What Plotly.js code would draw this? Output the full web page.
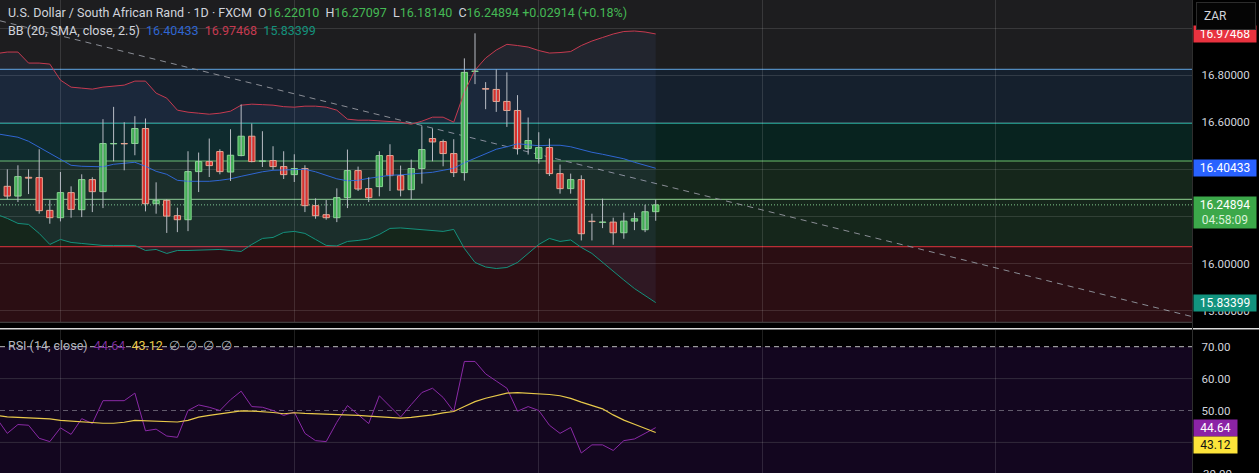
<!DOCTYPE html>
<html><head><meta charset="utf-8">
<script src="https://cdn.plot.ly/plotly-3.0.1.min.js"></script>
<style>html,body{margin:0;padding:0;background:#000;overflow:hidden}#chart{width:1259px;height:473px}</style>
</head><body><div id="chart"></div>
<script>
// ---------------- data ----------------
const candleIndex = Array.from({length: 62}, (_, i) => i);
const openP  = [16.3277,16.2864,16.366,16.3647,16.2255,16.1945,16.3009,16.2285,16.3562,16.3051,16.5081,16.5094,16.5094,16.5732,16.254,16.2681,16.203,16.186,16.3902,16.4328,16.4753,16.3885,16.4583,16.5404,16.434,16.437,16.4115,16.3774,16.403,16.2455,16.2072,16.1945,16.2796,16.3945,16.3179,16.3264,16.4583,16.3732,16.3136,16.403,16.5306,16.5179,16.4668,16.386,16.8157,16.7426,16.7391,16.6881,16.6498,16.4881,16.4455,16.4923,16.3817,16.3179,16.3562,16.1796,16.1745,16.1757,16.1306,16.18,16.1434,16.2201];
const highP  = [16.4,16.417,16.4,16.4851,16.2694,16.3885,16.3277,16.3787,16.366,16.6128,16.6651,16.6,16.6255,16.6157,16.3447,16.2723,16.237,16.4766,16.4711,16.5306,16.4851,16.5702,16.6753,16.5945,16.5617,16.4979,16.4766,16.4638,16.417,16.2766,16.2694,16.3191,16.4838,16.4115,16.366,16.4766,16.5064,16.4157,16.4413,16.583,16.5732,16.5264,16.5277,16.8711,16.9774,16.7702,16.8243,16.8115,16.7149,16.62,16.5574,16.5306,16.42,16.3817,16.3745,16.2115,16.2753,16.1945,16.2157,16.2157,16.2498,16.27097];
const lowP   = [16.2723,16.2609,16.2949,16.2115,16.1689,16.1787,16.1945,16.197,16.2183,16.2353,16.434,16.3957,16.4596,16.2213,16.2115,16.1298,16.1332,16.1374,16.3034,16.3672,16.3787,16.3502,16.4553,16.4298,16.4098,16.3987,16.3587,16.346,16.2183,16.1902,16.186,16.1757,16.2353,16.3077,16.2609,16.2851,16.3077,16.2851,16.2711,16.3391,16.434,16.4128,16.3672,16.3519,16.7617,16.6553,16.6438,16.58,16.4626,16.4626,16.4243,16.3715,16.2966,16.2966,16.0979,16.0979,16.1502,16.0796,16.1051,16.1417,16.1332,16.1814];
const closeP = [16.2864,16.3689,16.3626,16.2243,16.1945,16.3009,16.2298,16.3562,16.3051,16.5094,16.5094,16.5081,16.5732,16.254,16.2681,16.2013,16.186,16.3902,16.4328,16.4157,16.3902,16.4596,16.5404,16.4328,16.4357,16.4115,16.3774,16.403,16.2455,16.203,16.1945,16.2796,16.3945,16.3162,16.2796,16.4583,16.3732,16.312,16.403,16.4838,16.5162,16.4668,16.386,16.8115,16.817,16.7404,16.6881,16.6498,16.4881,16.5221,16.4923,16.3817,16.3179,16.3562,16.1264,16.1779,16.1762,16.1306,16.18,16.1902,16.2198,16.24894];

const bandIndex = Array.from({length: 63}, (_, i) => i - 1);
const bbUpper = [16.8915,16.8979,16.8979,16.8511,16.8511,16.8468,16.7787,16.7489,16.7447,16.7404,16.7489,16.7532,16.7574,16.7745,16.7745,16.7234,16.7021,16.6511,16.6426,16.6383,16.634,16.6383,16.6468,16.6723,16.6766,16.6745,16.6723,16.666,16.6638,16.6681,16.6681,16.6638,16.6511,16.6128,16.6085,16.6085,16.6064,16.6043,16.6,16.5915,16.6043,16.6213,16.6213,16.6,16.7277,16.8213,16.8723,16.9064,16.9306,16.9255,16.9191,16.9043,16.8936,16.8957,16.9,16.9255,16.9447,16.9596,16.9745,16.9851,16.9872,16.983,16.97468];
const bbBasis = [16.5511,16.5447,16.5362,16.5191,16.4936,16.4681,16.4404,16.417,16.4128,16.4106,16.4106,16.4213,16.4255,16.4298,16.4128,16.3915,16.3787,16.3532,16.349,16.349,16.349,16.3532,16.3596,16.3702,16.3809,16.3894,16.3957,16.3979,16.4,16.4,16.3894,16.3745,16.3596,16.3511,16.3532,16.3617,16.3681,16.3745,16.3766,16.3809,16.383,16.3872,16.3957,16.4043,16.4277,16.4468,16.466,16.4851,16.4957,16.5085,16.5043,16.5,16.5021,16.5021,16.4957,16.483,16.4723,16.4638,16.4553,16.4447,16.4298,16.417,16.40433];
const bbLower = [16.2085,16.1915,16.1702,16.166,16.1277,16.0809,16.1021,16.0894,16.0851,16.0809,16.0766,16.0766,16.0766,16.0766,16.0553,16.0596,16.0426,16.0553,16.0553,16.0574,16.0596,16.0596,16.0553,16.0511,16.0809,16.1064,16.1106,16.1319,16.1362,16.1277,16.1021,16.0766,16.0745,16.0936,16.0979,16.1043,16.1234,16.1489,16.151,16.1468,16.1426,16.1383,16.1362,16.1447,16.0638,16.0043,15.9851,15.9787,15.983,16.0043,16.0447,16.0809,16.1064,16.0936,16.1,16.0681,16.0426,16.0043,15.966,15.9298,15.8936,15.8638,15.83399];

const rsiValues = [47.54,42.83,45.6,45.38,41.29,40.25,44.55,42.52,47.45,45.91,53.08,53.08,53.08,55.45,43.63,44.15,42,41.6,50,51.75,51.02,50,53.38,56.06,51.23,51.02,50,48.46,49.48,42.83,40.55,40.25,46.31,51.54,48.77,45.91,54.62,51.23,47.94,51.85,55.63,56.98,54.09,49.69,65.38,65.38,61.48,59.23,56.98,49.78,51.23,50,45.38,42.83,44.68,36.68,39.23,39.23,37.48,40.55,41.08,42.83,44.64];
const rsiMA = [48.46,48,47.85,47.75,47.63,47.38,46.92,46.68,46.46,46.15,46,46,46.31,46.92,46.77,46.62,46.52,46.4,46.92,47.94,48.46,48.98,49.45,49.91,49.82,49.69,49.38,48.98,49.29,49.08,48.98,48.98,48.68,48.62,48.46,48.25,48,47.78,47.63,47.85,48.15,48.62,49.23,49.69,51.23,52.77,53.85,54.77,55.45,55.63,55.45,55.29,55.02,54.62,53.78,52.62,51.69,50.52,48.62,46.98,45.69,44.46,43.12];

const levelPrices = [16.8246, 16.5953, 16.4352, 16.2726, 16.0713];
const zoneEdges = [17.4, 16.8246, 16.5953, 16.4352, 16.0713, 15.5];
const trendIndex = [-0.687, 111.5];
const trendPrice = [17.0306, 15.7741];
const timeGridIndex = [4.96, 27.02, 49.95, 71.03, 92.94];
const priceTicks = [15.8, 16.0, 16.2, 16.4, 16.6, 16.8, 17.0];
const priceTicksHidden = [16.2, 16.4, 17.0];   // covered by the value tags
const rsiTicks = [40, 50, 60, 70];
const rsiTicksHidden = [40];
const rsiLevels = [70, 50, 30];
const rsiGrid = [60, 40];
const countdownText = '04:58:09';
const headerTitle = 'U.S. Dollar / South African Rand · 1D · FXCM';
const currency = 'ZAR';

// ---------------- styles ----------------
const W = 1259, H = 473;
const plotRightPx = 1192.5, mainBottomPx = 322.3, rsiTopPx = 330;
const levelColors = ['#62a6e4', '#27ab9b', '#6cc06d', '#93d593', '#e3353f'];
const zoneColors = ['#1d1d1f', '#15202d', '#08231f', '#15261b', '#2b0e13'];
const gridColor = 'rgba(255,255,255,0.12)';
const incFill = '#3fae49', incLine = '#86d986', decFill = '#de2a20', decLine = '#f4a384';
const wickColor = '#b8bcc4';
const upCol = '#c63a50', midCol = '#2f66d2', lowCol = '#14917c';
const rsiCol = '#8a2aa6', maCol = '#e8c94a';
const txt = '#d1d4dc';
const FONT = 'Roboto, "Noto Sans", sans-serif';

// ---------------- traces ----------------
const wickX = [], wickY = [];
candleIndex.forEach((i, k) => { wickX.push(i, i, null); wickY.push(lowP[k], highP[k], null); });
const isUp = candleIndex.map((i, k) => closeP[k] >= openP[k]);

const traces = [
  {x: bandIndex, y: bbUpper, mode: 'lines', line: {color: upCol, width: 1}, xaxis: 'x', yaxis: 'y', hoverinfo: 'skip'},
  {x: bandIndex, y: bbLower, mode: 'lines', line: {color: lowCol, width: 1}, fill: 'tonexty', fillcolor: 'rgba(110,150,255,0.07)', xaxis: 'x', yaxis: 'y', hoverinfo: 'skip'},
  {x: bandIndex, y: bbBasis, mode: 'lines', line: {color: midCol, width: 1}, xaxis: 'x', yaxis: 'y', hoverinfo: 'skip'},
  {x: wickX, y: wickY, mode: 'lines', line: {color: wickColor, width: 1}, connectgaps: false, xaxis: 'x', yaxis: 'y', hoverinfo: 'skip'},
  {type: 'bar', x: candleIndex,
   base: candleIndex.map((i, k) => Math.min(openP[k], closeP[k])),
   y: candleIndex.map((i, k) => Math.abs(closeP[k] - openP[k])),
   width: 0.6,
   marker: {color: isUp.map(u => u ? incFill : decFill), line: {color: isUp.map(u => u ? incLine : decLine), width: 1}},
   xaxis: 'x', yaxis: 'y', hoverinfo: 'skip'},
  {x: bandIndex, y: rsiValues, mode: 'lines', line: {color: rsiCol, width: 1}, xaxis: 'x2', yaxis: 'y2', hoverinfo: 'skip'},
  {x: bandIndex, y: rsiMA, mode: 'lines', line: {color: maCol, width: 1.2}, xaxis: 'x2', yaxis: 'y2', hoverinfo: 'skip'}
];

// ---------------- shapes ----------------
const shapes = [];
for (let k = 0; k < zoneColors.length; k++) {
  shapes.push({type: 'rect', xref: 'x domain', x0: 0, x1: 1, yref: 'y', y0: zoneEdges[k + 1], y1: zoneEdges[k],
    fillcolor: zoneColors[k], line: {width: 0}, layer: 'below'});
}
levelPrices.forEach((lv, k) => shapes.push({type: 'line', xref: 'x domain', x0: 0, x1: 1, yref: 'y', y0: lv, y1: lv,
  line: {color: levelColors[k], width: 1}, layer: 'below'}));
const lastClose = closeP[closeP.length - 1];
shapes.push({type: 'line', xref: 'x domain', x0: 0, x1: 1, yref: 'y', y0: lastClose, y1: lastClose,
  line: {color: '#7fc88b', width: 1, dash: '1px,2px'}, layer: 'below'});
shapes.push({type: 'line', xref: 'x', yref: 'y', x0: trendIndex[0], x1: trendIndex[1], y0: trendPrice[0], y1: trendPrice[1],
  line: {color: '#8a8d95', width: 1, dash: '6px,5px'}, layer: 'below'});
// RSI pane
shapes.push({type: 'rect', xref: 'x2 domain', x0: 0, x1: 1, yref: 'y2', y0: rsiLevels[2], y1: rsiLevels[0],
  fillcolor: '#13061f', line: {width: 0}, layer: 'below'});
rsiGrid.forEach(gv => shapes.push({type: 'line', xref: 'x2 domain', x0: 0, x1: 1, yref: 'y2', y0: gv, y1: gv,
  line: {color: '#322a3b', width: 1}, layer: 'below'}));
shapes.push({type: 'line', xref: 'x2 domain', x0: 0, x1: 1, yref: 'y2', y0: rsiLevels[0], y1: rsiLevels[0],
  line: {color: '#bdbdbd', width: 1, dash: '5px,4px'}, layer: 'below'});
shapes.push({type: 'line', xref: 'x2 domain', x0: 0, x1: 1, yref: 'y2', y0: rsiLevels[1], y1: rsiLevels[1],
  line: {color: '#625b6c', width: 1, dash: '5px,4px'}, layer: 'below'});
shapes.push({type: 'line', xref: 'x2 domain', x0: 0, x1: 1, yref: 'y2', y0: rsiLevels[2], y1: rsiLevels[2],
  line: {color: '#625b6c', width: 1, dash: '5px,4px'}, layer: 'below'});
// frame lines
shapes.push({type: 'line', xref: 'paper', yref: 'paper', x0: 0, x1: plotRightPx / W, y0: 1 - mainBottomPx / H, y1: 1 - mainBottomPx / H,
  line: {color: '#4d4d4d', width: 1}});
shapes.push({type: 'line', xref: 'paper', yref: 'paper', x0: 0, x1: 1, y0: 1 - 328.8 / H, y1: 1 - 328.8 / H,
  line: {color: '#d9d9d9', width: 1.5}});
shapes.push({type: 'line', xref: 'paper', yref: 'paper', x0: plotRightPx / W, x1: plotRightPx / W, y0: 0, y1: 1,
  line: {color: '#2e2e2e', width: 1}});

// ---------------- annotations ----------------
const n = closeP.length;
const chg = closeP[n - 1] - closeP[n - 2];
const pct = chg / closeP[n - 2] * 100;
const sgn = v => (v >= 0 ? '+' : '');
const G = '#45b955';
const g = s => `<span style="color:${G}">${s}</span>`;
const sp = '&nbsp;&nbsp;';
const header1 = `${headerTitle}&nbsp;&nbsp;O${g(openP[n-1].toFixed(5))}${sp}H${g(highP[n-1].toFixed(5))}${sp}L${g(lowP[n-1].toFixed(5))}${sp}C${g(closeP[n-1].toFixed(5))}&nbsp;${g(sgn(chg) + chg.toFixed(5) + ' (' + sgn(pct) + pct.toFixed(2) + '%)')}`;
const nb = bbBasis.length;
const header2 = `BB (20, SMA, close, 2.5)${sp}<span style="color:${midCol}">${bbBasis[nb-1].toFixed(5)}</span>${sp}<span style="color:${upCol}">${bbUpper[nb-1].toFixed(5)}</span>${sp}<span style="color:${lowCol}">${bbLower[nb-1].toFixed(5)}</span>`;
const nr = rsiValues.length;
const header3 = `RSI (14, close)${sp}<span style="color:#7d2e9c">${rsiValues[nr-1].toFixed(2)}</span>${sp}<span style="color:${maCol}">${rsiMA[nr-1].toFixed(2)}</span>${sp}∅&nbsp;&nbsp;∅&nbsp;&nbsp;∅&nbsp;&nbsp;∅`;

const ann = [];
ann.push({xref: 'paper', yref: 'paper', x: 6 / W, y: 1 - 13 / H, xanchor: 'left', yanchor: 'middle', text: header1, showarrow: false,
  font: {family: FONT, size: 12.5, color: txt}});
ann.push({xref: 'paper', yref: 'paper', x: 6 / W, y: 1 - 30 / H, xanchor: 'left', yanchor: 'middle', text: header2, showarrow: false,
  font: {family: FONT, size: 12.5, color: txt}});
ann.push({xref: 'paper', yref: 'paper', x: 6 / W, y: 1 - 345.5 / H, xanchor: 'left', yanchor: 'middle', text: header3, showarrow: false,
  font: {family: FONT, size: 12.5, color: '#b2b5be'}});

function tag(yref, val, text, bg, fg, w, h, yshift) {
  return {xref: 'paper', x: plotRightPx / W, xanchor: 'left', yref: yref, y: val, yanchor: 'middle', yshift: yshift || 0,
    text: text, showarrow: false, bgcolor: bg, borderpad: 1, width: w, height: h, align: 'center',
    font: {family: FONT, size: 12, color: fg}};
}
ann.push(tag('y', bbUpper[nb-1], bbUpper[nb-1].toFixed(5), '#e8323f', '#ffffff', 60, 14));
ann.push(tag('y', bbBasis[nb-1], bbBasis[nb-1].toFixed(5), '#2962ff', '#ffffff', 60, 14));
const t2 = tag('y', lastClose, `${lastClose.toFixed(5)}<br><span style="color:#d9f3d9">${countdownText}</span>`, '#3ca84a', '#ffffff', 60, 29, 0);
t2.yanchor = 'top'; t2.yshift = 8.5;
ann.push(t2);
ann.push(tag('y', bbLower[nb-1], bbLower[nb-1].toFixed(5), '#12937e', '#ffffff', 60, 14));
ann.push(tag('y2', rsiValues[nr-1], rsiValues[nr-1].toFixed(2), '#8b23a6', '#ffffff', 41, 14));
ann.push(tag('y2', rsiValues[nr-1], rsiMA[nr-1].toFixed(2), '#fde43a', '#131313', 41, 14, -17));
// partially visible 30.00 tick label at the very bottom
const y2range = [30.408, 75.235], y2dom = [0, 1 - rsiTopPx / H];
const y2paper = v => y2dom[0] + (v - y2range[0]) / (y2range[1] - y2range[0]) * (y2dom[1] - y2dom[0]);
ann.push({xref: 'paper', yref: 'paper', x: 1201 / W, y: y2paper(rsiLevels[2]), xanchor: 'left', yanchor: 'middle',
  text: rsiLevels[2].toFixed(2), showarrow: false, font: {family: FONT, size: 11.5, color: txt}});
// currency box
ann.push({xref: 'paper', yref: 'paper', x: 1196 / W, y: 1 - 1.5 / H, xanchor: 'left', yanchor: 'top', text: currency, showarrow: false,
  bgcolor: '#050505', bordercolor: '#2c2c2c', borderwidth: 1, borderpad: 7, width: 44, height: 12, align: 'left',
  font: {family: FONT, size: 12, color: txt}});

// ---------------- layout ----------------
const axX = {domain: [0, plotRightPx / W], range: [-0.687, 111.5], tickvals: timeGridIndex, showticklabels: false, ticks: '',
  showgrid: true, gridcolor: gridColor, gridwidth: 1, zeroline: false, showline: false, fixedrange: true};
const layout = {
  width: W, height: H, margin: {l: 0, r: 0, t: 0, b: 0, pad: 0},
  paper_bgcolor: '#000', plot_bgcolor: '#000', showlegend: false, hovermode: false,
  font: {family: FONT, size: 12, color: txt},
  xaxis: Object.assign({}, axX, {anchor: 'y'}),
  xaxis2: Object.assign({}, axX, {anchor: 'y2', matches: 'x'}),
  yaxis: {domain: [1 - mainBottomPx / H, 1], range: [15.7503, 17.1189], side: 'right', anchor: 'x',
    tickvals: priceTicks, ticktext: priceTicks.map(v => priceTicksHidden.includes(v) ? '' : v.toFixed(5)),
    ticks: '', ticklabelstandoff: 8, showgrid: true, gridcolor: gridColor,
    zeroline: false, showline: false, fixedrange: true, tickfont: {family: FONT, size: 11.5, color: txt}},
  yaxis2: {domain: [0, 1 - rsiTopPx / H], range: y2range, side: 'right', anchor: 'x2',
    tickvals: rsiTicks, ticktext: rsiTicks.map(v => rsiTicksHidden.includes(v) ? '' : v.toFixed(2)),
    ticks: '', ticklabelstandoff: 8, showgrid: false,
    zeroline: false, showline: false, fixedrange: true, tickfont: {family: FONT, size: 11.5, color: txt}},
  bargap: 0, shapes: shapes, annotations: ann
};
Plotly.newPlot('chart', traces, layout, {staticPlot: true, displayModeBar: false});
</script></body></html>
